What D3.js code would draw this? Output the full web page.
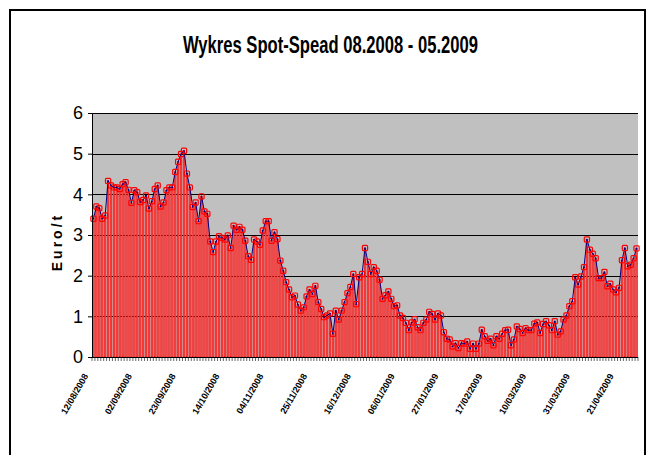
<!DOCTYPE html>
<meta charset="utf-8">
<head>
<style>
 body { margin: 0; background: #fff; }
 svg text { font-family: "Liberation Sans", Arial, sans-serif; }
 .title { font-weight: bold; font-size: 23px; }
 .yaxis text { font-size: 18px; }
 .xlab { font-size: 9px; font-weight: bold; }
</style>
</head>
<body>
<svg width="649" height="455"></svg>
<script src="https://d3js.org/d3.v7.min.js"></script>
<script>
  // spread values, one per trading day (Euro/t)
  var values = [
    3.40, 3.70, 3.66, 3.40, 3.48, 4.33, 4.22, 4.17, 4.17, 4.13,
    4.25, 4.30, 4.11, 3.79, 4.10, 4.05, 3.81, 3.86, 3.97, 3.65,
    3.83, 4.13, 4.22, 3.70, 3.80, 4.10, 4.17, 4.17, 4.55, 4.80,
    4.99, 5.07, 4.51, 4.17, 3.69, 3.80, 3.34, 3.95, 3.58, 3.52,
    2.84, 2.58, 2.84, 2.97, 2.93, 2.89, 2.99, 2.68, 3.23, 3.13,
    3.20, 3.13, 2.86, 2.48, 2.39, 2.89, 2.84, 2.76, 3.11, 3.34,
    3.34, 2.86, 3.07, 2.90, 2.37, 2.12, 1.84, 1.66, 1.47, 1.51,
    1.29, 1.14, 1.22, 1.49, 1.66, 1.55, 1.75, 1.35, 1.18, 0.98,
    1.02, 1.07, 0.57, 1.14, 0.92, 1.14, 1.35, 1.57, 1.72, 2.04,
    1.30, 1.96, 2.04, 2.68, 2.34, 2.04, 2.21, 2.12, 1.90, 1.43,
    1.52, 1.61, 1.43, 1.25, 1.27, 1.02, 0.96, 0.84, 0.66, 0.85,
    0.93, 0.73, 0.66, 0.84, 0.92, 1.11, 1.06, 0.92, 1.07, 1.02,
    0.61, 0.45, 0.43, 0.26, 0.34, 0.22, 0.34, 0.33, 0.38, 0.20,
    0.33, 0.20, 0.33, 0.67, 0.51, 0.40, 0.45, 0.29, 0.51, 0.45,
    0.57, 0.66, 0.67, 0.29, 0.43, 0.75, 0.69, 0.59, 0.71, 0.66,
    0.66, 0.82, 0.85, 0.59, 0.81, 0.88, 0.78, 0.66, 0.88, 0.55,
    0.63, 0.92, 1.02, 1.25, 1.37, 1.96, 1.78, 1.98, 2.21, 2.89,
    2.64, 2.54, 2.43, 1.94, 1.94, 2.09, 1.74, 1.80, 1.66, 1.59,
    1.70, 2.38, 2.68, 2.23, 2.27, 2.43, 2.67
  ];
  // labels shown on every 15th category
  var dateLabels = [
    '12/08/2008', '02/09/2008', '23/09/2008', '14/10/2008', '04/11/2008',
    '25/11/2008', '16/12/2008', '06/01/2009', '27/01/2009', '17/02/2009',
    '10/03/2009', '31/03/2009', '21/04/2009'
  ];
  var labelEvery = 15;
  var yTicks = [0, 1, 2, 3, 4, 5, 6];

  var svg = d3.select('svg');
  var plot = { left: 92, right: 638, top: 113, bottom: 357 };

  // outer frame
  svg.append('rect')
    .attr('x', 10).attr('y', 10).attr('width', 635).attr('height', 460)
    .attr('fill', '#fff').attr('stroke', '#000').attr('stroke-width', 2);

  // narrow bold title (squeezed to the width of the original)
  svg.append('text')
    .attr('class', 'title')
    .attr('x', 183).attr('y', 53)
    .attr('textLength', 295)
    .attr('lengthAdjust', 'spacingAndGlyphs')
    .text('Wykres Spot-Spead 08.2008 - 05.2009');

  var x = d3.scaleBand()
    .domain(d3.range(values.length))
    .range([plot.left, plot.right])
    .paddingInner(0.4).paddingOuter(0.2);
  var y = d3.scaleLinear().domain([0, 6]).range([plot.bottom, plot.top]);

  svg.append('rect')
    .attr('x', plot.left).attr('y', plot.top)
    .attr('width', plot.right - plot.left).attr('height', plot.bottom - plot.top)
    .attr('fill', '#c0c0c0');

  svg.append('g')
    .selectAll('line')
    .data(yTicks.slice(1))
    .join('line')
      .attr('x1', plot.left).attr('x2', plot.right)
      .attr('y1', function(d) { return Math.round(y(d)) + 0.5; })
      .attr('y2', function(d) { return Math.round(y(d)) + 0.5; })
      .attr('stroke', '#000').attr('stroke-width', 1);

  // bars
  svg.append('g')
    .selectAll('rect')
    .data(values)
    .join('rect')
      .attr('x', function(d, i) { return x(i); })
      .attr('y', function(d) { return y(d); })
      .attr('width', x.bandwidth())
      .attr('height', function(d) { return y(0) - y(d); })
      .attr('fill', '#f24848')
      .attr('stroke', '#ff0000')
      .attr('stroke-width', 0.45);

  // line through the same values
  var cx = function(d, i) { return x(i) + x.bandwidth() / 2; };
  svg.append('path')
    .datum(values)
    .attr('fill', 'none')
    .attr('stroke', '#000080')
    .attr('stroke-width', 1)
    .attr('d', d3.line().x(cx).y(function(d) { return y(d); }));

  svg.append('g')
    .selectAll('rect')
    .data(values)
    .join('rect')
      .attr('x', function(d, i) { return cx(d, i) - 2.6; })
      .attr('y', function(d) { return y(d) - 2.6; })
      .attr('width', 5.2).attr('height', 5.2)
      .attr('rx', 1)
      .attr('fill', 'none')
      .attr('stroke', '#ff0000')
      .attr('stroke-width', 1.2);

  svg.append('g')
    .selectAll('circle')
    .data(values)
    .join('circle')
      .attr('cx', cx)
      .attr('cy', function(d) { return y(d); })
      .attr('r', 0.8)
      .attr('fill', '#000080');

  // y axis
  var yAxis = svg.append('g')
    .attr('class', 'yaxis')
    .attr('transform', 'translate(' + plot.left + ',0)')
    .call(d3.axisLeft(y).tickValues(yTicks).tickSize(4).tickPadding(5).tickFormat(d3.format('d')));
  yAxis.select('.domain').attr('stroke', '#000');

  svg.append('text')
    .attr('transform', 'translate(62,242) rotate(-90)')
    .attr('text-anchor', 'middle')
    .style('font-size', '14px').style('font-weight', 'bold')
    .style('letter-spacing', '3px')
    .text('Euro/t');

  // x axis: tick between every category, labels every 15th
  var step = x.step();
  var xg = svg.append('g');
  xg.append('line')
    .attr('x1', plot.left).attr('x2', plot.right)
    .attr('y1', plot.bottom + 0.5).attr('y2', plot.bottom + 0.5)
    .attr('stroke', '#000');
  xg.selectAll('.tk')
    .data(d3.range(values.length + 1))
    .join('line')
      .attr('class', 'tk')
      .attr('x1', function(i) { return plot.left + i * step; })
      .attr('x2', function(i) { return plot.left + i * step; })
      .attr('y1', plot.bottom).attr('y2', plot.bottom + 4)
      .attr('stroke', '#000').attr('stroke-width', 0.6);

  xg.selectAll('.xlab')
    .data(dateLabels)
    .join('text')
      .attr('class', 'xlab')
      .attr('text-anchor', 'end')
      .attr('transform', function(d, i) {
        var px = x(i * labelEvery) + x.bandwidth() / 2;
        return 'translate(' + (px - 5) + ',' + (plot.bottom + 19) + ') rotate(-60)';
      })
      .text(function(d) { return d; });
</script>
</body>
</html>
